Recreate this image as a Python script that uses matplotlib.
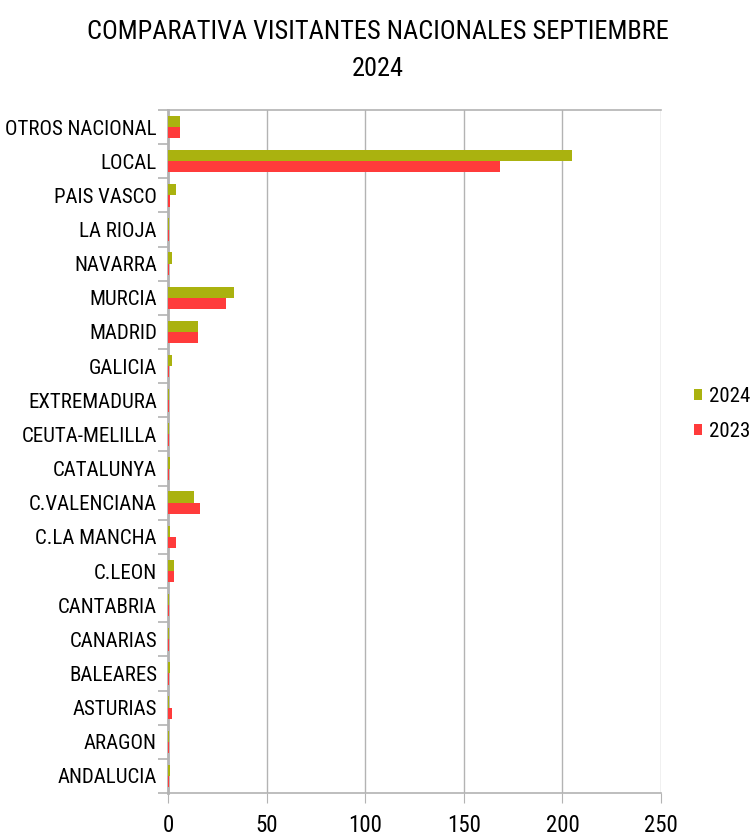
import matplotlib.pyplot as plt
import numpy as np

regiones = ['ANDALUCIA', 'ARAGON', 'ASTURIAS', 'BALEARES', 'CANARIAS', 'CANTABRIA',
            'C.LEON', 'C.LA MANCHA', 'C.VALENCIANA', 'CATALUNYA', 'CEUTA-MELILLA',
            'EXTREMADURA', 'GALICIA', 'MADRID', 'MURCIA', 'NAVARRA', 'LA RIOJA',
            'PAIS VASCO', 'LOCAL', 'OTROS NACIONAL']
v2024 = [1, 0.5, 0.5, 1, 0.5, 0.5, 3, 1, 13, 1, 0.5, 0.5, 2, 15, 33.5, 2, 0.5, 4, 205, 6]
v2023 = [0.5, 0.5, 2, 0.5, 0.5, 0.5, 3, 4, 16, 0.5, 0.5, 0.5, 0.5, 15, 29.5, 0.5, 0.5, 1, 168.5, 6]

plt.rcParams['font.family'] = ['Roboto Condensed', 'Liberation Sans', 'DejaVu Sans']

W, H = 752, 836
fig = plt.figure(figsize=(W/100, H/100), dpi=100)
ax = fig.add_axes([168/W, 1 - 793/H, (661 - 168)/W, (793 - 110)/H])

y = np.arange(len(regiones))
h = 0.33
ax.barh(y + h/2, v2024, height=h, color='#aab20f', label='2024', zorder=3)
ax.barh(y - h/2, v2023, height=h, color='#ff3b3b', label='2023', zorder=3)

ax.set_xlim(0, 250)
ax.set_ylim(-0.5, len(regiones) - 0.5)
ax.set_xticks(range(0, 251, 50))
ax.set_yticks(y)
ax.set_yticklabels(regiones)
ax.set_yticks(np.arange(-0.5, len(regiones), 1), minor=True)
ax.tick_params(axis='y', which='major', length=0, labelsize=15, pad=8)
ax.tick_params(axis='y', which='minor', length=7, color='#b3b3b3', width=1.2)
ax.tick_params(axis='x', labelsize=16.5, length=7, color='#b3b3b3', pad=8)
ax.grid(axis='x', color='#b3b3b3', linewidth=1, zorder=0)

for s in ax.spines.values():
    s.set_color('#b3b3b3')
ax.spines['left'].set_linewidth(2)
ax.spines['right'].set_visible(False)
ax.spines['top'].set_linewidth(1.2)
ax.spines['bottom'].set_linewidth(1.2)

# titulo en dos lineas
fig.text(378/W, 1 - 39/H, 'COMPARATIVA VISITANTES NACIONALES SEPTIEMBRE', fontsize=19,
         ha='center', va='baseline')
fig.text(378/W, 1 - 76/H, '2024', fontsize=19, ha='center', va='baseline')

fig.legend(loc='center left', bbox_to_anchor=(694/W, 1 - 414/H), frameon=False, fontsize=15,
           handlelength=0.4, handleheight=0.45, handletextpad=0.3, labelspacing=0.75,
           borderaxespad=0, borderpad=0)

fig.savefig('out.png', dpi=100)
